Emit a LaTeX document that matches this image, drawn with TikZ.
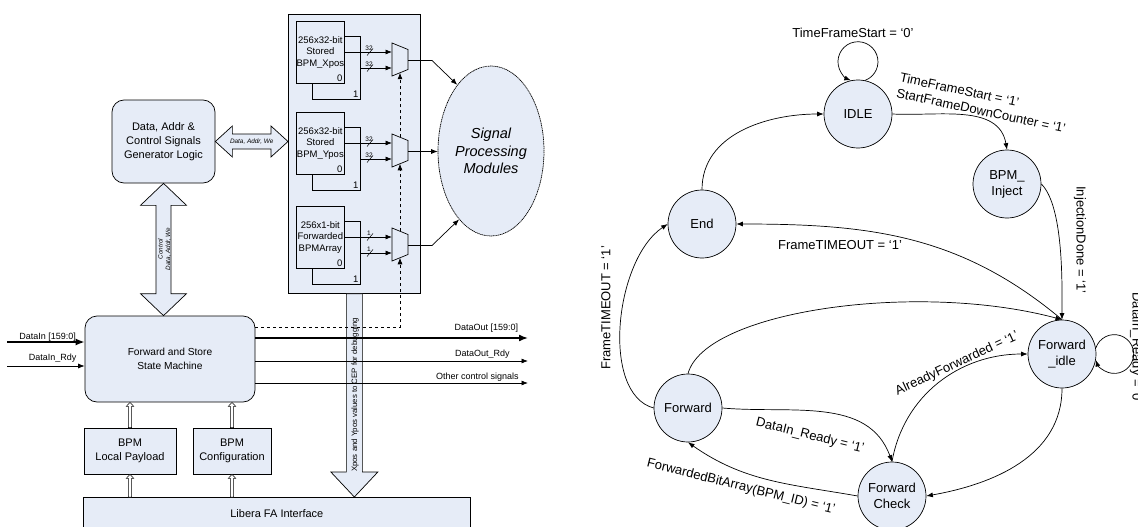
\documentclass[tikz,border=0pt]{standalone}
\usepackage{fontspec}
\setmainfont{Liberation Sans}
\usetikzlibrary{shapes.geometric,arrows.meta,calc}
\definecolor{boxfill}{RGB}{230,236,247}
\tikzset{>={Latex[length=6.5pt,width=5pt]}}
\tikzset{blk/.style={draw, fill=boxfill, align=center, font=\fontsize{11}{14}\selectfont}}
\tikzset{mem/.style={draw, fill=boxfill, minimum width=48pt, minimum height=62pt, inner sep=0pt, align=center, font=\fontsize{9.5}{11.5}\selectfont}}
\tikzset{idx/.style={anchor=south east, inner sep=2pt, font=\fontsize{9.5}{11}\selectfont}}
\tikzset{fat/.style={draw, fill=boxfill}}
\tikzset{hollow/.style={draw, fill=white, line width=0.5pt}}
\tikzset{buswire/.style={line width=1.6pt, >={Latex[length=9pt,width=7pt]}}}
\tikzset{sig/.style={font=\fontsize{9}{11}\selectfont, inner sep=0pt}}
\tikzset{state/.style={circle, draw, fill=boxfill, minimum size=68pt, inner sep=0pt, align=center, font=\fontsize{13}{16}\selectfont}}
\tikzset{cond/.style={font=\fontsize{13}{16}\selectfont, inner sep=0pt}}
% 2:1 multiplexer, inputs a/b on the left, select s below
\tikzset{mux/.pic={
  \draw[fill=boxfill] (-8,16.5) -- (8,10) -- (8,-10) -- (-8,-16.5) -- cycle;
  \coordinate (-a) at (-8,7.5);
  \coordinate (-b) at (-8,-8.5);
  \coordinate (-o) at (8,-1);
  \coordinate (-s) at (0,-13.25);
  \coordinate (-t) at (0,13.25);
}}
\tikzset{pics/bus/.style={code={
  \draw[line width=0.5pt] (-3,-3.5) -- (3,3.5);
  \node[font=\fontsize{6.5}{7}\selectfont, inner sep=0pt, anchor=south] at (-1,1.5) {#1};
}}}
% small hollow feed arrow pointing up
\newcommand{\feed}[2]{\draw[hollow] let \p1=(#1), \p2=(#2) in
  (\x1-1.7pt,\y1) -- (\x1-1.7pt,\y2-4pt) -- (\x1-3.7pt,\y2-4pt) -- (\x1,\y2)
  -- (\x1+3.7pt,\y2-4pt) -- (\x1+1.7pt,\y2-4pt) -- (\x1+1.7pt,\y1) -- cycle;}

\begin{document}
\begin{tikzpicture}[x=1pt, y=1pt, line width=0.7pt]
\useasboundingbox (0,0) rectangle (1138,-527);

%% forwarding block diagram
\node[blk, minimum width=132pt, minimum height=279pt, anchor=north west] (panel) at (288,-14) {};

\foreach \n/\y/\w/\txt in {1/21/32/{256x32-bit\\Stored\\BPM\_Xpos},
                          2/112/32/{256x32-bit\\Stored\\BPM\_Ypos},
                          3/206/1/{256x1-bit\\Forwarded\\BPMArray}} {
  \node[mem, anchor=north west, minimum height=63pt, label={[idx]south east:1}] (bk\n) at (312,-\y-15) {};
  \node[mem, anchor=north west, label={[idx]south east:0}] (bx\n) at (296,-\y) {\txt};
  \pic (m\n) at (400,-\y-38.5) {mux};
  \draw[->] (bx\n.east |- m\n-a) -- (m\n-a);
  \draw[->] (bk\n.east |- m\n-b) -- (m\n-b);
  \path (m\n-a) ++(-22,0) pic {bus=\w};
  \path (m\n-b) ++(-22,0) pic {bus=\w};
}

\node[draw, ellipse, dash pattern=on 1.2pt off 0.6pt, fill=boxfill, minimum width=106pt, minimum height=170pt, inner sep=0pt,
  align=center, font=\itshape\fontsize{14.5}{17.5}\selectfont] (spm) at (491,-151) {Signal\\Processing\\Modules};

\draw[->] (m1-o) -- ++(24,0) -- (spm.117);
\draw[->] (m2-o) -- (m2-o -| spm.west);
\draw[->] (m3-o) -- ++(24,0) -- (spm.-115);

\node[blk, rounded corners=12pt, minimum width=103pt, minimum height=83pt] (gen) at (163.5,-141.5) {Data, Addr \&\\Control Signals\\Generator Logic};
\node[blk, rounded corners=12pt, minimum width=170pt, minimum height=86pt, font=\fontsize{10.2}{13.3}\selectfont] (fsm) at (170,-359) {Forward and Store\\State Machine};
\node[blk, minimum width=92pt, minimum height=46pt] (lpl) at (130,-451) {BPM\\Local Payload};
\node[blk, minimum width=78pt, minimum height=46pt] (cfg) at (232,-451) {BPM\\Configuration};
\node[blk, anchor=north west, minimum width=387pt, minimum height=32pt] (libera) at (83,-497) {Libera FA Interface};

% wide bus arrows
\draw[fat] let \p1=(gen.east), \p2=(panel.west) in
  (\x1,\y1) -- (\x1+17pt,\y1+15.5pt) -- (\x1+17pt,\y1+7.5pt) -- (\x2-17pt,\y1+7.5pt) -- (\x2-17pt,\y1+15.5pt)
  -- (\x2,\y1) -- (\x2-17pt,\y1-15.5pt) -- (\x2-17pt,\y1-7.5pt) -- (\x1+17pt,\y1-7.5pt) -- (\x1+17pt,\y1-15.5pt) -- cycle;
\node[font=\itshape\fontsize{6.4}{7}\selectfont, inner sep=0pt] (lblbus) at ($(gen.east)!0.5!(gen.east -| panel.west)$) {Data, Addr, We};

\draw[fat] let \p1=(gen.south), \p2=(fsm.north) in
  (\x1,\y1) -- (\x1+23pt,\y1-22pt) -- (\x1+7.5pt,\y1-22pt) -- (\x1+7.5pt,\y2+22pt) -- (\x1+23pt,\y2+22pt)
  -- (\x1,\y2) -- (\x1-23pt,\y2+22pt) -- (\x1-7.5pt,\y2+22pt) -- (\x1-7.5pt,\y1-22pt) -- (\x1-23pt,\y1-22pt) -- cycle;
\node[rotate=90, align=center, font=\itshape\fontsize{6.3}{7.5}\selectfont, inner sep=0pt] (lblctl) at (164.5,-249) {Control\\Data, Addr, We};

\draw[fat] let \p1=(panel.south), \p2=(libera.north) in
  (\x1-8pt,\y1) -- (\x1-8pt,\y2+25pt) -- (\x1-23.5pt,\y2+25pt) -- (\x1,\y2)
  -- (\x1+23.5pt,\y2+25pt) -- (\x1+8pt,\y2+25pt) -- (\x1+8pt,\y1) -- cycle;
\node[rotate=90, font=\fontsize{7.8}{9}\selectfont, inner sep=0pt] (lblcep) at (355,-395) {Xpos and Ypos values to CEP for debugging};

\feed{lpl.north}{fsm.south}
\feed{cfg.north}{fsm.south}
\feed{lpl.south |- libera.north}{lpl.south}
\feed{cfg.south |- libera.north}{cfg.south}

% control and data lines
\coordinate (din) at (7,-342);
\coordinate (drdy) at (7,-366);
\coordinate (dout) at (528,-338);
\coordinate (dordy) at (528,-361);
\coordinate (octl) at (528,-383);

\draw[buswire,->] (din) -- (din -| fsm.west) node[sig, pos=1, anchor=base east, xshift=-8pt, yshift=2.5pt] (lbldin) {DataIn [159:0]};
\draw[->] (drdy) -- (drdy -| fsm.west) node[sig, pos=1, anchor=base east, xshift=-8pt, yshift=5.5pt] (lbldrdy) {DataIn\_Rdy};

\draw[dashed,->] ([yshift=32pt]fsm.east) -| (m3-s);
\draw[dashed,->] (m3-t) -- (m2-s);
\draw[dashed,->] (m2-t) -- (m1-s);

\draw[buswire,->] (fsm.east |- dout) -- (dout) node[sig, pos=1, anchor=base east, xshift=-9pt, yshift=8pt] (lbldout) {DataOut [159:0]};
\draw[->] (fsm.east |- dordy) -- (dordy) node[sig, pos=1, anchor=base east, xshift=-18pt, yshift=4.5pt] (lbldordy) {DataOut\_Rdy};
\draw[->] (fsm.east |- octl) -- (octl) node[sig, pos=1, anchor=base east, xshift=-9pt, yshift=4pt] (lblctlout) {Other control signals};

%% state machine
\node[state] (idle) at (858,-114) {IDLE};
\node[state] (inject) at (1007,-184) {BPM\_\\Inject};
\node[state] (fidle) at (1062,-354) {Forward\\\_idle};
\node[state] (fcheck) at (892,-496) {Forward\\Check};
\node[state] (fwd) at (688,-408) {Forward};
\node[state] (fin) at (702,-224) {End};

\draw[->] (idle.78) arc[start angle=-69, end angle=249, radius=20pt];
\draw[->] (fidle.10) arc[start angle=162, end angle=-162, radius=19.4pt];
\draw[->] (fin.north) to[out=90, in=180] (idle.west);
\draw[->] (idle.east) to[out=-3, in=100] (inject.north);
\draw[->] (inject.east) to[out=-45, in=90, looseness=0.6] (fidle.north);
\draw[->] (fidle.north) to[out=140, in=0] (fin.east);
\draw[->] (fwd.north) .. controls +(75:65) and +(165:150) .. (fidle.north);
\draw[->] (fwd.east) to[out=-5, in=110] (fcheck.north);
\draw[->] (fcheck.west) to[out=170, in=-35] (fwd.south);
\draw[->] (fcheck.north) to[out=80, in=180] (fidle.west);
\draw[->] (fidle.south) to[out=-90, in=10] (fcheck.east);
\draw[->] (fwd.west) .. controls +(165:55) and +(214:64) .. (fin.west);

\node[cond] (lblidle) at (853,-33) {TimeFrameStart = `0'};
\node[cond, rotate=-12, align=left, anchor=north west] (lblstart) at (901,-72) {TimeFrameStart = `1'\\StartFrameDownCounter = `1'};
\node[cond, rotate=-90] (lblinj) at (1080,-240) {InjectionDone = `1'};
\node[cond] (lbltoa) at (840,-245) {FrameTIMEOUT = `1'};
\node[cond, rotate=90] (lbltob) at (606,-308) {FrameTIMEOUT = `1'};
\node[cond, rotate=-14] (lblrdy) at (810,-436) {DataIn\_Ready = `1'};
\node[cond, rotate=-14] (lblbit) at (741,-487) {ForwardedBitArray(BPM\_ID) = `1'};
\node[cond, rotate=25] (lblfwd) at (957,-364) {AlreadyForwarded = `1'};
\node[cond, rotate=-90] (lblwait) at (1136,-348) {DataIn\_Ready = `0'};
\end{tikzpicture}
\end{document}
